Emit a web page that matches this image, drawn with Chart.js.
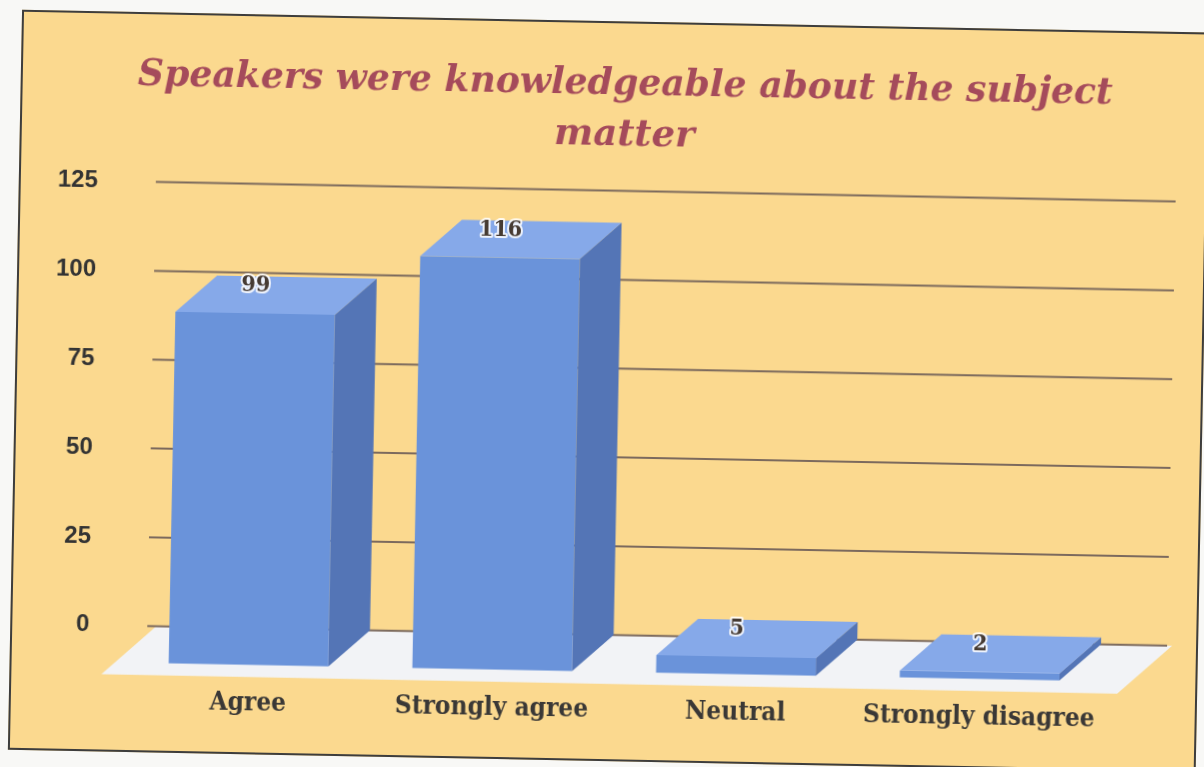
<!DOCTYPE html>
<html>
<head>
<meta charset="utf-8">
<script src="https://cdn.jsdelivr.net/npm/chart.js@4.4.1/dist/chart.umd.min.js"></script>
<style>
  html, body { margin: 0; padding: 0; background: #f8f8f6; overflow: hidden; }
  #hoja { position: absolute; left: 0; top: 0; width: 1204px; height: 767px; transform: rotate(1.1deg); transform-origin: 602px 384px; }
  #marco { position: absolute; left: 15px; top: 21px; width: 1184px; height: 736px; background: #fbd98f; border: 2px solid #3d3d3d; }
  #grafica { position: absolute; left: 0; top: 0; }
</style>
</head>
<body>
<div id="hoja">
  <div id="marco"></div>
  <canvas id="grafica" width="1204" height="767"></canvas>
</div>
<script>
const categorias = ['Agree', 'Strongly agree', 'Neutral', 'Strongly disagree'];
const respuestas = [99, 116, 5, 2];
const marcasY = [0, 25, 50, 75, 100, 125];
const titulo = ['Speakers were knowledgeable about the subject', 'matter'];

// profundidad de las barras (hacia atras y arriba)
const DX = 41, DY = 37;

const caja3d = {
    id: 'caja3d',
    beforeDatasetsDraw(chart){
        const {ctx, chartArea: {left, right}, scales: {y}} = chart;
        const base = y.getPixelForValue(0);
        ctx.save();
        // piso blanco
        ctx.fillStyle = '#f2f3f6';
        ctx.beginPath();
        ctx.moveTo(left - 25, base + 12);
        ctx.lineTo(right + 16, base + 12);
        ctx.lineTo(right + 70, base - DY);
        ctx.lineTo(left + 29, base - DY);
        ctx.closePath();
        ctx.fill();
        // lineas de la pared del fondo
        ctx.strokeStyle = '#7c6a5d';
        ctx.lineWidth = 2;
        marcasY.forEach(v => {
            const py = y.getPixelForValue(v) - DY;
            ctx.beginPath();
            ctx.moveTo(left + 20, py);
            ctx.lineTo(right + 65, py);
            ctx.stroke();
        });
        ctx.restore();
    },
    afterDatasetsDraw(chart){
        const {ctx} = chart;
        ctx.save();
        chart.getDatasetMeta(0).data.forEach((bar, i) => {
            const x1 = bar.x - bar.width / 2, x2 = bar.x + bar.width / 2;
            const top = bar.y, base = bar.base;
            // cara de arriba
            ctx.fillStyle = '#86a9e9';
            ctx.beginPath();
            ctx.moveTo(x1, top);
            ctx.lineTo(x2, top);
            ctx.lineTo(x2 + DX, top - DY);
            ctx.lineTo(x1 + DX, top - DY);
            ctx.closePath();
            ctx.fill();
            // lado derecho
            ctx.fillStyle = '#5475b6';
            ctx.beginPath();
            ctx.moveTo(x2, top);
            ctx.lineTo(x2 + DX, top - DY);
            ctx.lineTo(x2 + DX, base - DY);
            ctx.lineTo(x2, base);
            ctx.closePath();
            ctx.fill();
            // valor encima
            ctx.font = 'bold 23px "DejaVu Serif Condensed", "DejaVu Serif"';
            ctx.textAlign = 'center';
            ctx.textBaseline = 'middle';
            ctx.lineJoin = 'round';
            ctx.lineWidth = 4;
            ctx.strokeStyle = 'rgba(255,255,255,0.85)';
            ctx.strokeText(respuestas[i], bar.x, top - 28);
            ctx.fillStyle = '#463b33';
            ctx.fillText(respuestas[i], bar.x, top - 28);
        });
        ctx.restore();
    }
};

new Chart(document.querySelector('#grafica'), {
    type: 'bar',
    data: {
        labels: categorias,
        datasets: [{
            data: respuestas,
            backgroundColor: '#6a93da',
            borderWidth: 0,
            barPercentage: 0.655,
            categoryPercentage: 1
        }]
    },
    options: {
        responsive: false,
        animation: false,
        layout: { padding: { left: 16, right: 97, top: 0, bottom: 18 } },
        plugins: {
            legend: { display: false },
            tooltip: { enabled: false },
            title: {
                display: true,
                text: titulo,
                fullSize: false,
                color: '#a54b5b',
                font: { family: '"DejaVu Serif"', size: 37, style: 'italic', weight: 'bold', lineHeight: 1.4 },
                padding: { top: 58, bottom: 66 }
            }
        },
        scales: {
            x: {
                grid: { display: false, drawTicks: false },
                border: { display: false },
                ticks: {
                    padding: 23,
                    color: '#3a3836',
                    font: { family: '"DejaVu Serif Condensed", "DejaVu Serif"', size: 26, weight: 'bold' }
                }
            },
            y: {
                min: 0,
                max: 125,
                grid: { display: false, drawTicks: false },
                border: { display: false },
                afterBuildTicks: s => { s.ticks = marcasY.map(v => ({value: v})); },
                ticks: {
                    padding: 38,
                    labelOffset: -DY,
                    color: '#333333',
                    font: { family: '"Liberation Sans"', size: 24, weight: 'bold' }
                }
            }
        }
    },
    plugins: [caja3d]
});
</script>
</body>
</html>
